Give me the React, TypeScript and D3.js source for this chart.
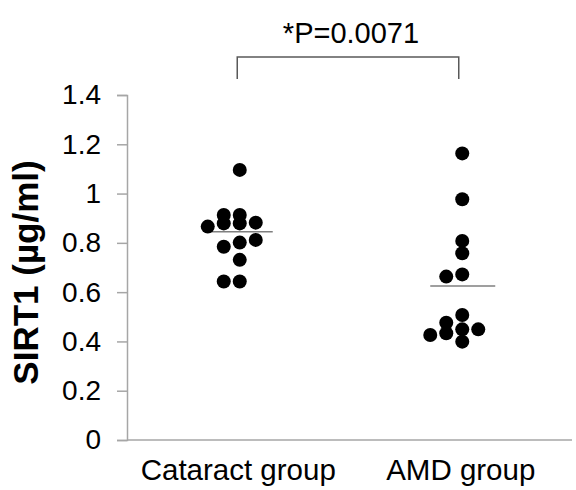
import { useEffect, useRef } from 'react';
import * as d3 from 'd3';

// groups on the x axis
const groups = ['Cataract group', 'AMD group'];

// SIRT1 values (µg/ml), with the column each dot sits in
const cataractValues = [1.096, 0.913, 0.913, 0.879, 0.879, 0.882, 0.866, 0.812, 0.801, 0.784, 0.731, 0.643, 0.643];
const cataractCols   = [0, -1, 0, -1, 0, 1, -2, 1, 0, -1, 0, -1, 0];

const amdValues = [1.163, 0.977, 0.808, 0.758, 0.663, 0.672, 0.507, 0.476, 0.449, 0.449, 0.433, 0.426, 0.399];
const amdCols   = [0, 0, 0, 0, -1, 0, 0, -1, 0, 1, -1, -2, 0];

// group means (horizontal bars)
const means = [0.845, 0.625];

const yTicks = [0, 0.2, 0.4, 0.6, 0.8, 1, 1.2, 1.4];
const pLabel = '*P=0.0071';

export default function App() {
  const svgRef = useRef<SVGSVGElement | null>(null);

  useEffect(() => {
    const el = svgRef.current;
    if (!el) return;
    d3.select(el).selectAll('*').remove();

    const W = 576;
    const H = 490;
    const margin = { top: 95, right: 4, bottom: 50, left: 127 };
    const font = 'Liberation Sans, Arial, sans-serif';
    const axisColor = '#a6a6a6';

    const svg = d3.select(el).attr('width', W).attr('height', H);

    const x = d3.scaleBand<string>()
      .domain(groups)
      .range([margin.left, W - margin.right]);
    const cx = (g: string) => (x(g) ?? 0) + x.bandwidth() / 2;

    const y = d3.scaleLinear().domain([0, 1.4]).range([H - margin.bottom, margin.top]);

    // y axis
    const yAxis = d3.axisLeft(y).tickValues(yTicks).tickSize(10).tickPadding(16)
      .tickFormat(d => `${d}`);
    const ya = svg.append('g').attr('transform', `translate(${margin.left},0)`).call(yAxis);
    ya.select('.domain').attr('stroke', axisColor).attr('stroke-width', 1.5);
    ya.selectAll('.tick line').attr('stroke', axisColor).attr('stroke-width', 1.5);
    ya.selectAll('.tick text')
      .style('font-family', font).style('font-size', '28px').attr('fill', '#000');

    // x axis (baseline only)
    svg.append('line')
      .attr('x1', margin.left).attr('x2', W - margin.right)
      .attr('y1', y(0)).attr('y2', y(0))
      .attr('stroke', axisColor).attr('stroke-width', 1.5);

    svg.selectAll('text.cat')
      .data(groups)
      .enter().append('text')
      .attr('class', 'cat')
      .attr('x', d => cx(d))
      .attr('y', H - 10)
      .attr('text-anchor', 'middle')
      .style('font-family', font).style('font-size', '29.5px')
      .text(d => d);

    // y title
    svg.append('text')
      .attr('transform', `translate(38,${(y(0) + y(1.4)) / 2 + 5}) rotate(-90)`)
      .attr('text-anchor', 'middle')
      .style('font-family', font).style('font-size', '35px').style('font-weight', 'bold')
      .text('SIRT1 (µg/ml)');

    // dots
    const step = 16;
    const shift = 1.5;
    const series = [
      { g: groups[0], values: cataractValues, cols: cataractCols },
      { g: groups[1], values: amdValues, cols: amdCols },
    ];
    series.forEach((s, i) => {
      const c = cx(s.g) + shift;
      svg.append('line')
        .attr('x1', c - 32).attr('x2', c + 33)
        .attr('y1', y(means[i])).attr('y2', y(means[i]))
        .attr('stroke', '#7f7f7f').attr('stroke-width', 1.5);
      svg.append('g').selectAll('circle')
        .data(s.values)
        .enter().append('circle')
        .attr('cx', (_, k) => c + s.cols[k] * step)
        .attr('cy', d => y(d))
        .attr('r', 7)
        .attr('fill', '#000');
    });

    // significance bracket
    const bx1 = cx(groups[0]) - 1;
    const bx2 = cx(groups[1]) - 2;
    const by = 57;
    svg.append('path')
      .attr('d', `M${bx1},79V${by}H${bx2}V79`)
      .attr('fill', 'none')
      .attr('stroke', '#595959')
      .attr('stroke-width', 1.5);
    svg.append('text')
      .attr('x', (bx1 + bx2) / 2 + 3)
      .attr('y', 43)
      .attr('text-anchor', 'middle')
      .style('font-family', font).style('font-size', '29px')
      .text(pLabel);
  }, []);

  return (
    <div style={{ position: 'absolute', left: 0, top: 0 }}>
      <svg ref={svgRef} style={{ display: 'block' }} />
    </div>
  );
}
